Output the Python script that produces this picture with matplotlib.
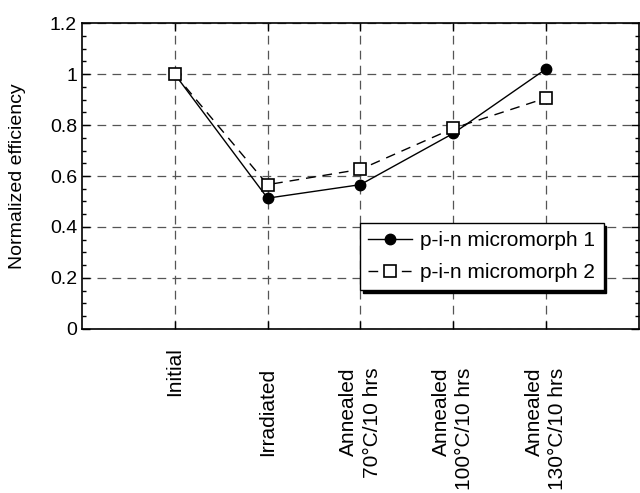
import matplotlib
matplotlib.use('Agg')
import matplotlib.pyplot as plt
import matplotlib.transforms as mtransforms
from matplotlib.ticker import MultipleLocator, FormatStrFormatter

plt.rcParams.update({
    'font.family': ['Liberation Sans', 'DejaVu Sans'],
    'font.size': 14,
})

stages = ['Initial', 'Irradiated', 'Annealed\n70\u00b0C/10 hrs',
          'Annealed\n100\u00b0C/10 hrs', 'Annealed\n130\u00b0C/10 hrs']
micromorph1 = [1.0, 0.513, 0.566, 0.767, 1.02]
micromorph2 = [1.0, 0.566, 0.626, 0.787, 0.906]

fig = plt.figure(figsize=(6.4, 4.93), dpi=100)
ax = fig.add_axes([0.128, 0.333, 0.870, 0.620])

x = range(1, len(stages) + 1)
ax.plot(x, micromorph1, '-', color='black', lw=1.0, marker='o', ms=7.5,
        mfc='black', mec='black', label='p-i-n micromorph 1', zorder=3)
ax.plot(x, micromorph2, color='black', lw=1.0, dashes=(7, 5), marker='s', ms=9,
        mfc='white', mec='black', mew=1.2, label='p-i-n micromorph 2', zorder=3)

ax.set_xlim(0, 6)
ax.set_ylim(0, 1.2)
ax.set_xticks(list(x))
ax.set_xticklabels(stages, rotation=90, va='top', ha='center',
                   multialignment='right', linespacing=1.3, fontsize=15)
ax.yaxis.set_major_locator(MultipleLocator(0.2))
ax.yaxis.set_minor_locator(MultipleLocator(0.05))
ax.yaxis.set_major_formatter(FormatStrFormatter('%g'))
ax.tick_params(axis='both', which='both', direction='in', top=True, right=True)
ax.tick_params(axis='y', which='major', length=6, width=1)
ax.tick_params(axis='y', which='minor', length=3, width=1)
ax.tick_params(axis='x', which='major', length=6, width=1, pad=28)
ax.grid(True, which='major', color='#555555', lw=0.9, dashes=(7, 5))
for s in ax.spines.values():
    s.set_linewidth(1.2)

# the first label sits a little higher than the rest
first = ax.get_xticklabels()[0]
first.set_transform(first.get_transform() +
                    mtransforms.ScaledTranslation(0, 0.21, fig.dpi_scale_trans))

ax.set_ylabel('Normalized efficiency', labelpad=17)

leg = ax.legend(loc='upper left', bbox_to_anchor=(0.499, 0.346), frameon=True,
                fancybox=False, shadow={'color': 'black', 'alpha': 1.0},
                borderaxespad=0, handlelength=2.1, handletextpad=0.4,
                borderpad=0.4, labelspacing=0.6, fontsize=15)
leg.get_frame().set_edgecolor('black')
leg.get_frame().set_linewidth(1.0)

fig.savefig('out.png', dpi=100)
